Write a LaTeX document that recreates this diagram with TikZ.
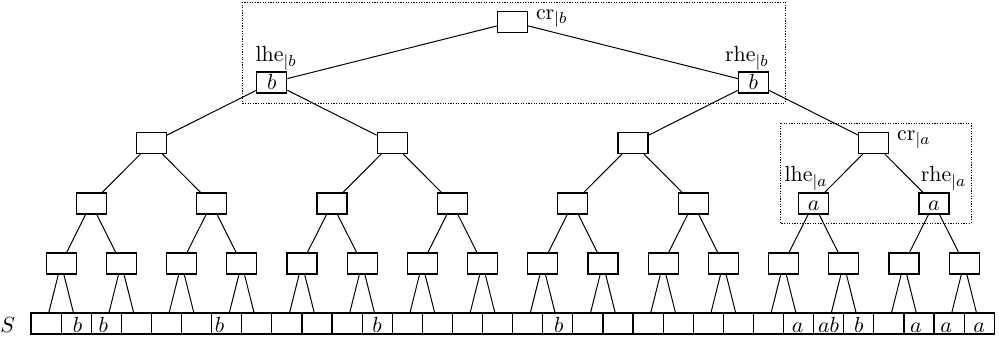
\documentclass[tikz,border=0pt]{standalone}
\begin{document}
\begin{tikzpicture}[x=0.5pt,y=-0.5pt,
  font=\fontsize{10.95}{13}\selectfont,
  cell/.style={draw, line width=0.6pt, rectangle, inner sep=0pt,
    minimum width=15.05pt, minimum height=10.5pt, text height=8.5pt, text depth=0pt},
  inode/.style={draw, line width=0.6pt, rectangle, inner sep=0pt,
    minimum width=15pt, minimum height=10.5pt, text height=7.5pt, text depth=0pt},
  link/.style={line width=0.5pt},
  frame/.style={line width=0.45pt, dash pattern=on 0.6pt off 0.7pt},
  tag/.style={inner sep=0pt}]
\useasboundingbox (0,0) rectangle (999,341);

% the array S (32 cells)
\foreach \i/\t/\dx in {0/{}/0pt,1/b/0.75pt,2/b/-1.5pt,3/{}/0pt,4/{}/0pt,5/{}/0pt,6/b/-3.5pt,7/{}/0pt,
  8/{}/0pt,9/{}/0pt,10/{}/0pt,11/b/0pt,12/{}/0pt,13/{}/0pt,14/{}/0pt,15/{}/0pt,
  16/{}/0pt,17/b/0.5pt,18/{}/0pt,19/{}/0pt,20/{}/0pt,21/{}/0pt,22/{}/0pt,23/{}/0pt,
  24/{}/0pt,25/a/-0.5pt,26/ab/0pt,27/b/0pt,28/{}/0pt,29/a/-1.5pt,30/a/-1.5pt,31/a/0pt}
  \node[cell] (leaf\i) at ({46.05+30.1*\i},323.5) {\hspace*{\dx}$\t$\hspace*{-\dx}};

\node[tag, anchor=base east] (S) at ([xshift=-7.5pt,yshift=-4.25pt]leaf0.west) {$S$};

% level above the leaves
\foreach \i in {0,...,15}
  \node[inode] (p\i) at ({31+30.1*(2*\i+1)},263.5) {};
% next level
\foreach \i in {0,...,5}
  \node[inode] (q\i) at ({31+30.1*(4*\i+2)},203.5) {};
\node[inode] (q6) at ({31+30.1*26},203.5) {$a$};
\node[inode] (q7) at ({31+30.1*30},203.5) {$a$};
% next level
\foreach \i in {0,...,3}
  \node[inode] (r\i) at ({31+30.1*(8*\i+4)},143) {};
% heavy endpoints and root
\node[inode] (s0) at ({31+30.1*8},82.5) {$b$};
\node[inode] (s1) at ({31+30.1*24},82.5) {$b$};
\node[inode] (root) at ({31+30.1*16},22) {};

% connectors
\foreach \i [evaluate=\i as \a using int(2*\i), evaluate=\i as \b using int(2*\i+1)] in {0,...,15} {
  \draw[link] (p\i) -- (leaf\a);
  \draw[link] (p\i) -- (leaf\b);
}
\foreach \i [evaluate=\i as \a using int(2*\i), evaluate=\i as \b using int(2*\i+1)] in {0,...,7} {
  \draw[link] (q\i) -- (p\a);
  \draw[link] (q\i) -- (p\b);
}
\foreach \i [evaluate=\i as \a using int(2*\i), evaluate=\i as \b using int(2*\i+1)] in {0,...,3} {
  \draw[link] (r\i) -- (q\a);
  \draw[link] (r\i) -- (q\b);
}
\draw[link] (s0) -- (r0);
\draw[link] (s0) -- (r1);
\draw[link] (s1) -- (r2);
\draw[link] (s1) -- (r3);
\draw[link] (root) -- (s0);
\draw[link] (root) -- (s1);

% labels
\node[tag, anchor=base west] (crb) at ([xshift=3.7pt,yshift=1.25pt]root.east) {$\mathrm{cr}_{|b}$};
\node[tag, anchor=base west] (lheb) at ([xshift=-0.5pt,yshift=4.75pt]s0.north west) {$\mathrm{lhe}_{|b}$};
\node[tag, anchor=base east] (rheb) at ([yshift=4.75pt]s1.north east) {$\mathrm{rhe}_{|b}$};
\node[tag, anchor=base west] (cra) at ([xshift=3.7pt,yshift=1.25pt]r3.east) {$\mathrm{cr}_{|a}$};
\node[tag, anchor=base east] (lhea) at ([xshift=-0.75pt,yshift=5.25pt]q6.north east) {$\mathrm{lhe}_{|a}$};
\node[tag, anchor=base west] (rhea) at ([xshift=1pt,yshift=5.25pt]q7.north west) {$\mathrm{rhe}_{|a}$};

% dotted frames
\draw[frame] (242,2) rectangle (785,103);
\draw[frame] (780,123) rectangle (971,223);
\end{tikzpicture}
\end{document}
